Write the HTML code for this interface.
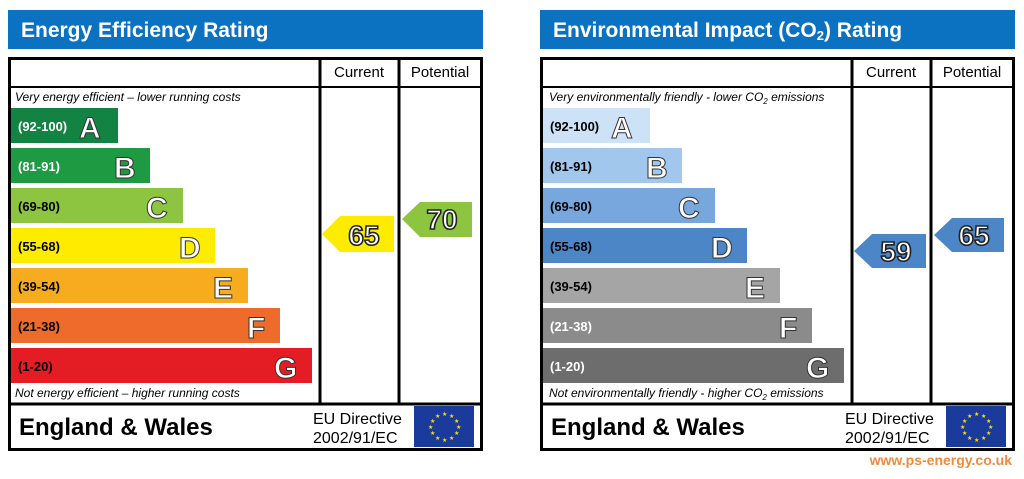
<!DOCTYPE html>
<html><head><style>body{margin:0;background:#fff}svg{display:block}text{font-family:"Liberation Sans",sans-serif}</style></head><body>
<svg width="1024" height="479" viewBox="0 0 1024 479" xmlns="http://www.w3.org/2000/svg">
<defs>
<g id="flag"><rect x="0" y="0" width="60" height="41" fill="#1a3b9c"/>
<g fill="#ffdd00" font-size="6"><text x="28" y="10">★</text><text x="35" y="12">★</text><text x="40" y="17">★</text><text x="42" y="23">★</text><text x="40" y="29">★</text><text x="35" y="34">★</text><text x="28" y="36">★</text><text x="21" y="34">★</text><text x="16" y="29">★</text><text x="14" y="23">★</text><text x="16" y="17">★</text><text x="21" y="12">★</text></g></g>
</defs>
<g>
<rect x="8" y="10" width="475" height="39" fill="#0b71c1"/>
<text x="21" y="37" font-size="21" font-weight="bold" fill="#fff">Energy Efficiency Rating</text>
<rect x="9.5" y="58.5" width="472" height="391" fill="none" stroke="#000" stroke-width="3"/>
<line x1="8" y1="87" x2="482" y2="87" stroke="#000" stroke-width="2"/>
<line x1="320" y1="58" x2="320" y2="404" stroke="#000" stroke-width="3"/>
<line x1="399" y1="58" x2="399" y2="404" stroke="#000" stroke-width="3"/>
<line x1="8" y1="404" x2="482" y2="404" stroke="#000" stroke-width="3"/>
<text x="359" y="77" font-size="15" text-anchor="middle">Current</text>
<text x="440" y="77" font-size="15" text-anchor="middle">Potential</text>
<text x="15" y="101" font-size="12" font-style="italic">Very energy efficient – lower running costs</text>
<text x="15" y="397" font-size="12" font-style="italic">Not energy efficient – higher running costs</text>
<g font-weight="bold">
<rect x="11" y="108" width="107" height="35" fill="#138343"/><text x="18" y="131" font-size="13" fill="#fff">(92-100)</text><text x="79" y="138" font-size="30" fill="#fff" stroke="#333" stroke-width="1">A</text>
<rect x="11" y="148" width="139" height="35" fill="#1d9a42"/><text x="18" y="171" font-size="13" fill="#fff">(81-91)</text><text x="114" y="178" font-size="30" fill="#fff" stroke="#333" stroke-width="1">B</text>
<rect x="11" y="188" width="172" height="35" fill="#8dc540"/><text x="18" y="211" font-size="13" fill="#000">(69-80)</text><text x="146" y="218" font-size="30" fill="#fff" stroke="#333" stroke-width="1">C</text>
<rect x="11" y="228" width="204" height="35" fill="#fdec00"/><text x="18" y="251" font-size="13" fill="#000">(55-68)</text><text x="179" y="258" font-size="30" fill="#fff" stroke="#333" stroke-width="1">D</text>
<rect x="11" y="268" width="237" height="35" fill="#f7ab1f"/><text x="18" y="291" font-size="13" fill="#000">(39-54)</text><text x="213" y="298" font-size="30" fill="#fff" stroke="#333" stroke-width="1">E</text>
<rect x="11" y="308" width="269" height="35" fill="#ee6b2b"/><text x="18" y="331" font-size="13" fill="#000">(21-38)</text><text x="247" y="338" font-size="30" fill="#fff" stroke="#333" stroke-width="1">F</text>
<rect x="11" y="348" width="301" height="35" fill="#e31d23"/><text x="18" y="371" font-size="13" fill="#000">(1-20)</text><text x="274" y="378" font-size="30" fill="#fff" stroke="#333" stroke-width="1">G</text>
<polygon points="322,234 340,216 394,216 394,252 340,252" fill="#fdec00"/><text x="364" y="245" font-size="28" fill="#fff" stroke="#222" stroke-width="1.6" text-anchor="middle">65</text>
<polygon points="402,219 420,202 472,202 472,237 420,237" fill="#8dc540"/><text x="442" y="229" font-size="28" fill="#fff" stroke="#222" stroke-width="1.6" text-anchor="middle">70</text>
<text x="19" y="435" font-size="24" fill="#000">England &amp; Wales</text>
</g>
<text x="313" y="424" font-size="16">EU Directive</text>
<text x="313" y="443" font-size="16">2002/91/EC</text>
<use href="#flag" x="414" y="406"/>
</g>
<g transform="translate(532,0)">
<rect x="8" y="10" width="475" height="39" fill="#0b71c1"/>
<text x="21" y="37" font-size="21" font-weight="bold" fill="#fff">Environmental Impact (CO<tspan font-size="13" dy="3">2</tspan><tspan dy="-3">) Rating</tspan></text>
<rect x="9.5" y="58.5" width="472" height="391" fill="none" stroke="#000" stroke-width="3"/>
<line x1="8" y1="87" x2="482" y2="87" stroke="#000" stroke-width="2"/>
<line x1="320" y1="58" x2="320" y2="404" stroke="#000" stroke-width="3"/>
<line x1="399" y1="58" x2="399" y2="404" stroke="#000" stroke-width="3"/>
<line x1="8" y1="404" x2="482" y2="404" stroke="#000" stroke-width="3"/>
<text x="359" y="77" font-size="15" text-anchor="middle">Current</text>
<text x="440" y="77" font-size="15" text-anchor="middle">Potential</text>
<text x="17" y="101" font-size="12" font-style="italic">Very environmentally friendly - lower CO<tspan font-size="8" dy="3">2</tspan><tspan dy="-3"> emissions</tspan></text>
<text x="17" y="397" font-size="12" font-style="italic">Not environmentally friendly - higher CO<tspan font-size="8" dy="3">2</tspan><tspan dy="-3"> emissions</tspan></text>
<g font-weight="bold">
<rect x="11" y="108" width="107" height="35" fill="#cde2f6"/><text x="18" y="131" font-size="13" fill="#000">(92-100)</text><text x="79" y="138" font-size="30" fill="#fff" stroke="#333" stroke-width="1">A</text>
<rect x="11" y="148" width="139" height="35" fill="#a2c7ed"/><text x="18" y="171" font-size="13" fill="#000">(81-91)</text><text x="114" y="178" font-size="30" fill="#fff" stroke="#333" stroke-width="1">B</text>
<rect x="11" y="188" width="172" height="35" fill="#77a7dd"/><text x="18" y="211" font-size="13" fill="#000">(69-80)</text><text x="146" y="218" font-size="30" fill="#fff" stroke="#333" stroke-width="1">C</text>
<rect x="11" y="228" width="204" height="35" fill="#4d86c7"/><text x="18" y="251" font-size="13" fill="#000">(55-68)</text><text x="179" y="258" font-size="30" fill="#fff" stroke="#333" stroke-width="1">D</text>
<rect x="11" y="268" width="237" height="35" fill="#a5a5a5"/><text x="18" y="291" font-size="13" fill="#000">(39-54)</text><text x="213" y="298" font-size="30" fill="#fff" stroke="#333" stroke-width="1">E</text>
<rect x="11" y="308" width="269" height="35" fill="#8b8b8b"/><text x="18" y="331" font-size="13" fill="#fff">(21-38)</text><text x="247" y="338" font-size="30" fill="#fff" stroke="#333" stroke-width="1">F</text>
<rect x="11" y="348" width="301" height="35" fill="#6d6d6d"/><text x="18" y="371" font-size="13" fill="#fff">(1-20)</text><text x="274" y="378" font-size="30" fill="#fff" stroke="#333" stroke-width="1">G</text>
<polygon points="322,251 340,234 394,234 394,268 340,268" fill="#4d86c7"/><text x="364" y="261" font-size="28" fill="#fff" stroke="#222" stroke-width="1.6" text-anchor="middle">59</text>
<polygon points="402,235 420,218 472,218 472,252 420,252" fill="#4d86c7"/><text x="442" y="245" font-size="28" fill="#fff" stroke="#222" stroke-width="1.6" text-anchor="middle">65</text>
<text x="19" y="435" font-size="24" fill="#000">England &amp; Wales</text>
</g>
<text x="313" y="424" font-size="16">EU Directive</text>
<text x="313" y="443" font-size="16">2002/91/EC</text>
<use href="#flag" x="414" y="406"/>
</g>
<text x="1012" y="465" font-size="14" font-weight="bold" fill="#f08a3c" text-anchor="end">www.ps-energy.co.uk</text>
</svg>
</body></html>
